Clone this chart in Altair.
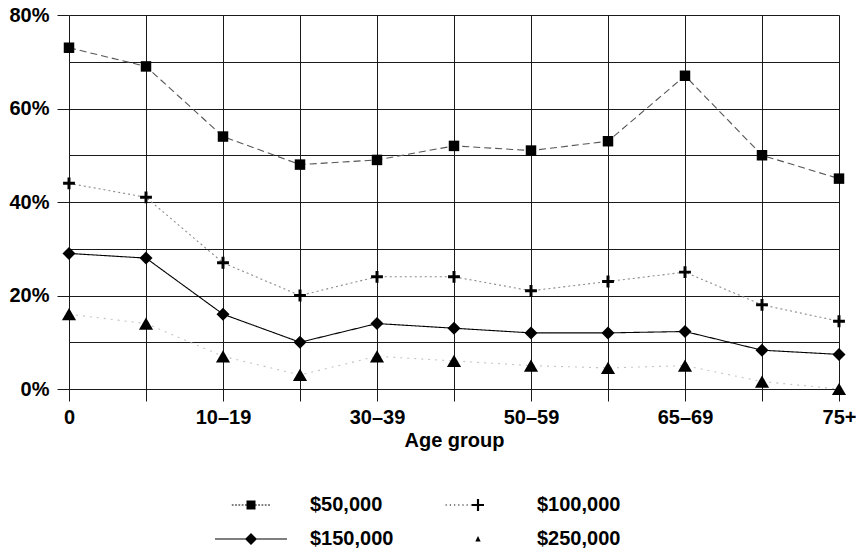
import json
import altair as alt
import pandas as pd

# Age bands along the x axis (every other one is labelled)
age_groups = ["0", "1–9", "10–19", "20–29", "30–39", "40–49",
              "50–59", "60–64", "65–69", "70–74", "75+"]

series_names = ["$50,000", "$100,000", "$150,000", "$250,000"]

# Percentages per age band
pct_50k = [73, 69, 54, 48, 49, 52, 51, 53, 67, 50, 45]
pct_100k = [44, 41, 27, 20, 24, 24, 21, 23, 25, 18, 14.5]
pct_150k = [29, 28, 16, 10, 14, 13, 12, 12, 12.3, 8.3, 7.4]
pct_250k = [16, 14, 7, 3, 7, 6, 5, 4.5, 5, 1.6, 0]

rows = []
for name, vals in zip(series_names, [pct_50k, pct_100k, pct_150k, pct_250k]):
    for i, (age, v) in enumerate(zip(age_groups, vals)):
        rows.append({"idx": i, "age": age, "series": name, "share": v / 100})
df = pd.DataFrame(rows)

FONT = "Liberation Sans"


def rect(x0, x1, y0, y1):
    return f"M{x0},{y0}H{x1}V{y1}H{x0}Z"


def dotted(x0, x1, step, dot, half=0.085):
    out = []
    x = x0
    while x + dot <= x1 + 1e-9:
        out.append(rect(round(x, 3), round(x + dot, 3), -half, half))
        x += step
    return "".join(out)


# Plot marker for the $100,000 series: a bold plus sign
cross_path = "M-1,-0.25H-0.25V-1H0.25V-0.25H1V0.25H0.25V1H-0.25V0.25H-1Z"

# Legend keys: a stretch of line with the marker on it
legend_paths = [
    dotted(-3.2, 3.2, 0.55, 0.3) + rect(-0.75, 0.75, -0.75, 0.75),
    dotted(-5.4, -0.9, 0.7, 0.2) + "M-1,-0.18H-0.18V-1H0.18V-0.18H1V0.18H0.18V1H-0.18V0.18H-1Z",
    rect(-6, 6, -0.09, 0.09) + "M-1,0L0,-1L1,0L0,1Z",
    "M0,-0.5L0.45,0.4L-0.45,0.4Z",
]

labels_js = json.dumps(age_groups, ensure_ascii=False)

x_enc = alt.X(
    "idx:Q",
    scale=alt.Scale(domain=[0, 10], nice=False, zero=False),
    title="Age group",
    axis=alt.Axis(
        values=list(range(11)),
        labelExpr=f"datum.value % 2 == 0 ? {labels_js}[datum.value] : ''",
        domain=False,
        grid=True,
        gridColor="#1a1a1a",
        gridWidth=1,
        ticks=True,
        tickSize=12,
        tickColor="#1a1a1a",
        labelFont=FONT,
        labelFontSize=20,
        labelFontWeight="bold",
        labelColor="black",
        labelPadding=6,
        labelFlush=False,
        labelOverlap=False,
        titleFont=FONT,
        titleFontSize=20,
        titleFontWeight="bold",
        titleColor="black",
        titlePadding=3,
    ),
)

y_enc = alt.Y(
    "share:Q",
    scale=alt.Scale(domain=[0, 0.8], nice=False),
    title=None,
    axis=alt.Axis(
        values=[i / 10 for i in range(9)],
        labelExpr="round(datum.value * 100) % 20 == 0 ? format(datum.value, '.0%') : ''",
        domain=False,
        grid=True,
        gridColor="#1a1a1a",
        gridWidth=1,
        tickSize=12,
        tickColor="#1a1a1a",
        tickOpacity={"condition": {"test": "round(datum.value * 100) % 20 == 0", "value": 1}, "value": 0},
        labelFont=FONT,
        labelFontSize=20,
        labelFontWeight="bold",
        labelColor="black",
        labelPadding=8,
        labelFlush=False,
        labelOverlap=False,
    ),
)

base = alt.Chart(df)

lines = base.mark_line().encode(
    x=x_enc,
    y=y_enc,
    detail="series:N",
    color=alt.Color("series:N", scale=alt.Scale(domain=series_names,
                    range=["#555555", "#8a8a8a", "#000000", "#c4c4c4"]), legend=None),
    strokeDash=alt.StrokeDash("series:N", scale=alt.Scale(domain=series_names,
                              range=[[7, 4], [2, 3], [1, 0], [2, 5]]), legend=None),
    strokeWidth=alt.StrokeWidth("series:N", scale=alt.Scale(domain=series_names,
                                range=[1.1, 1.1, 1.6, 1.0]), legend=None),
)

points = base.mark_point(filled=True, color="black", opacity=1).encode(
    x=x_enc,
    y=y_enc,
    shape=alt.Shape("series:N", scale=alt.Scale(domain=series_names,
                    range=["square", cross_path, "diamond", "triangle-up"]), legend=None),
    size=alt.Size("series:N", scale=alt.Scale(domain=series_names,
                  range=[110, 200, 150, 85]), legend=None),
)

legend_layer = base.mark_point(filled=True, color="black", opacity=0).encode(
    x=x_enc,
    y=y_enc,
    shape=alt.Shape(
        "series:N",
        scale=alt.Scale(domain=series_names, range=legend_paths),
        legend=alt.Legend(
            title=None,
            orient="none",
            legendX=172,
            legendY=480,
            columns=2,
            direction="horizontal",
            symbolSize=144,
            symbolFillColor="black",
            symbolStrokeWidth=0,
            symbolOpacity=1,
            labelFont=FONT,
            labelFontSize=20,
            labelFontWeight="bold",
            labelColor="black",
            labelOffset=49,
            columnPadding=51,
            rowPadding=14,
            labelLimit=300,
        ),
    ),
)

chart = (
    alt.layer(lines, points, legend_layer)
    .resolve_scale(shape="independent", size="independent")
    .properties(
        width=770,
        height=374,
        autosize=alt.AutoSizeParams(type="none"),
        padding={"left": 69, "top": 15, "right": 17, "bottom": 165},
        background="white",
    )
    .configure_view(stroke=None)
)

chart.save("out.html", embed_options={"renderer": "svg", "actions": False})
